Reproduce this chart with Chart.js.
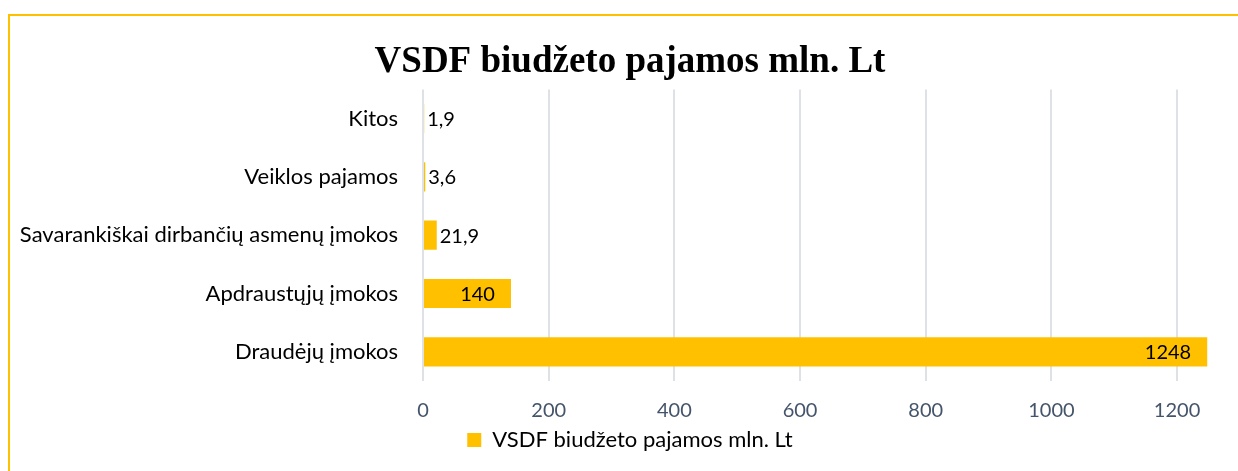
<!DOCTYPE html>
<html>
<head>
<meta charset="utf-8">
<script src="https://cdn.jsdelivr.net/npm/chart.js@4"></script>
<style>
  html, body { margin: 0; padding: 0; background: #fff; overflow: hidden; }
  #wrap { position: relative; width: 1260px; height: 471px; }
  #frame { position: absolute; left: 8px; top: 14px; width: 1300px; height: 600px; border: 2px solid #FFC000; box-sizing: border-box; }
  canvas { position: absolute; left: 0; top: 0; }
</style>
</head>
<body>
<div id="wrap">
  <div id="frame"></div>
  <canvas id="grafica" width="1260" height="471"></canvas>
</div>
<script>
const categorias = ["Kitos", "Veiklos pajamos", "Savarankiškai dirbančių asmenų įmokos", "Apdraustųjų įmokos", "Draudėjų įmokos"];
const valores = [1.9, 3.6, 21.9, 140, 1248];
const ticksEje = [0, 200, 400, 600, 800, 1000, 1200];
const nombreSerie = "VSDF biudžeto pajamos mln. Lt";

const amarillo = "#FFC000";
const fuente = "Lato, 'Open Sans', sans-serif";

// etiquetas de datos: dentro al final si caben, si no fuera
const etiquetas = {
  id: "etiquetas",
  afterDatasetsDraw(chart) {
    const ctx = chart.ctx;
    const meta = chart.getDatasetMeta(0);
    ctx.save();
    ctx.font = "20px " + fuente;
    ctx.fillStyle = "#000";
    ctx.textBaseline = "middle";
    meta.data.forEach((bar, i) => {
      const txt = String(valores[i]).replace(".", ",");
      const w = ctx.measureText(txt).width;
      const largo = bar.x - bar.base;
      if (largo > w + 30) {
        ctx.textAlign = "right";
        ctx.fillText(txt, bar.x - 16, bar.y + 1);
      } else {
        ctx.textAlign = "left";
        ctx.fillText(txt, bar.x + 3, bar.y + 1);
      }
    });
    ctx.restore();
  }
};

new Chart(document.getElementById("grafica"), {
  type: "bar",
  data: {
    labels: categorias,
    datasets: [{
      label: nombreSerie,
      data: valores,
      backgroundColor: amarillo,
      categoryPercentage: 1,
      barPercentage: 0.5
    }]
  },
  options: {
    indexAxis: "y",
    responsive: false,
    animation: false,
    layout: { padding: { left: 0, right: 0, bottom: 10 } },
    scales: {
      x: {
        min: 0,
        max: 1332,
        afterBuildTicks: axis => {
          axis.ticks = ticksEje.map(v => ({ value: v }));
        },
        afterFit: scale => { scale.height = 42; },
        grid: { color: "#DEE2E7", lineWidth: 2, drawTicks: false },
        border: { display: false },
        ticks: {
          color: "#44546A",
          font: { family: fuente, size: 20 },
          padding: 18,
          callback: v => String(v)
        }
      },
      y: {
        afterFit: scale => { scale.width = 423; },
        grid: { display: false, drawTicks: false },
        border: { display: false },
        ticks: { color: "#000", font: { family: fuente, size: 22 }, padding: 25 }
      }
    },
    plugins: {
      title: {
        display: true,
        text: nombreSerie,
        color: "#000",
        font: { family: "'Liberation Serif', 'Times New Roman', serif", size: 37, weight: "bold" },
        padding: { top: 40, bottom: 5 }
      },
      legend: {
        position: "bottom",
        labels: {
          color: "#000",
          font: { family: fuente, size: 22 },
          boxWidth: 14,
          boxHeight: 14,
          padding: 6
        }
      },
      tooltip: { enabled: false }
    }
  },
  plugins: [etiquetas]
});
</script>
</body>
</html>
